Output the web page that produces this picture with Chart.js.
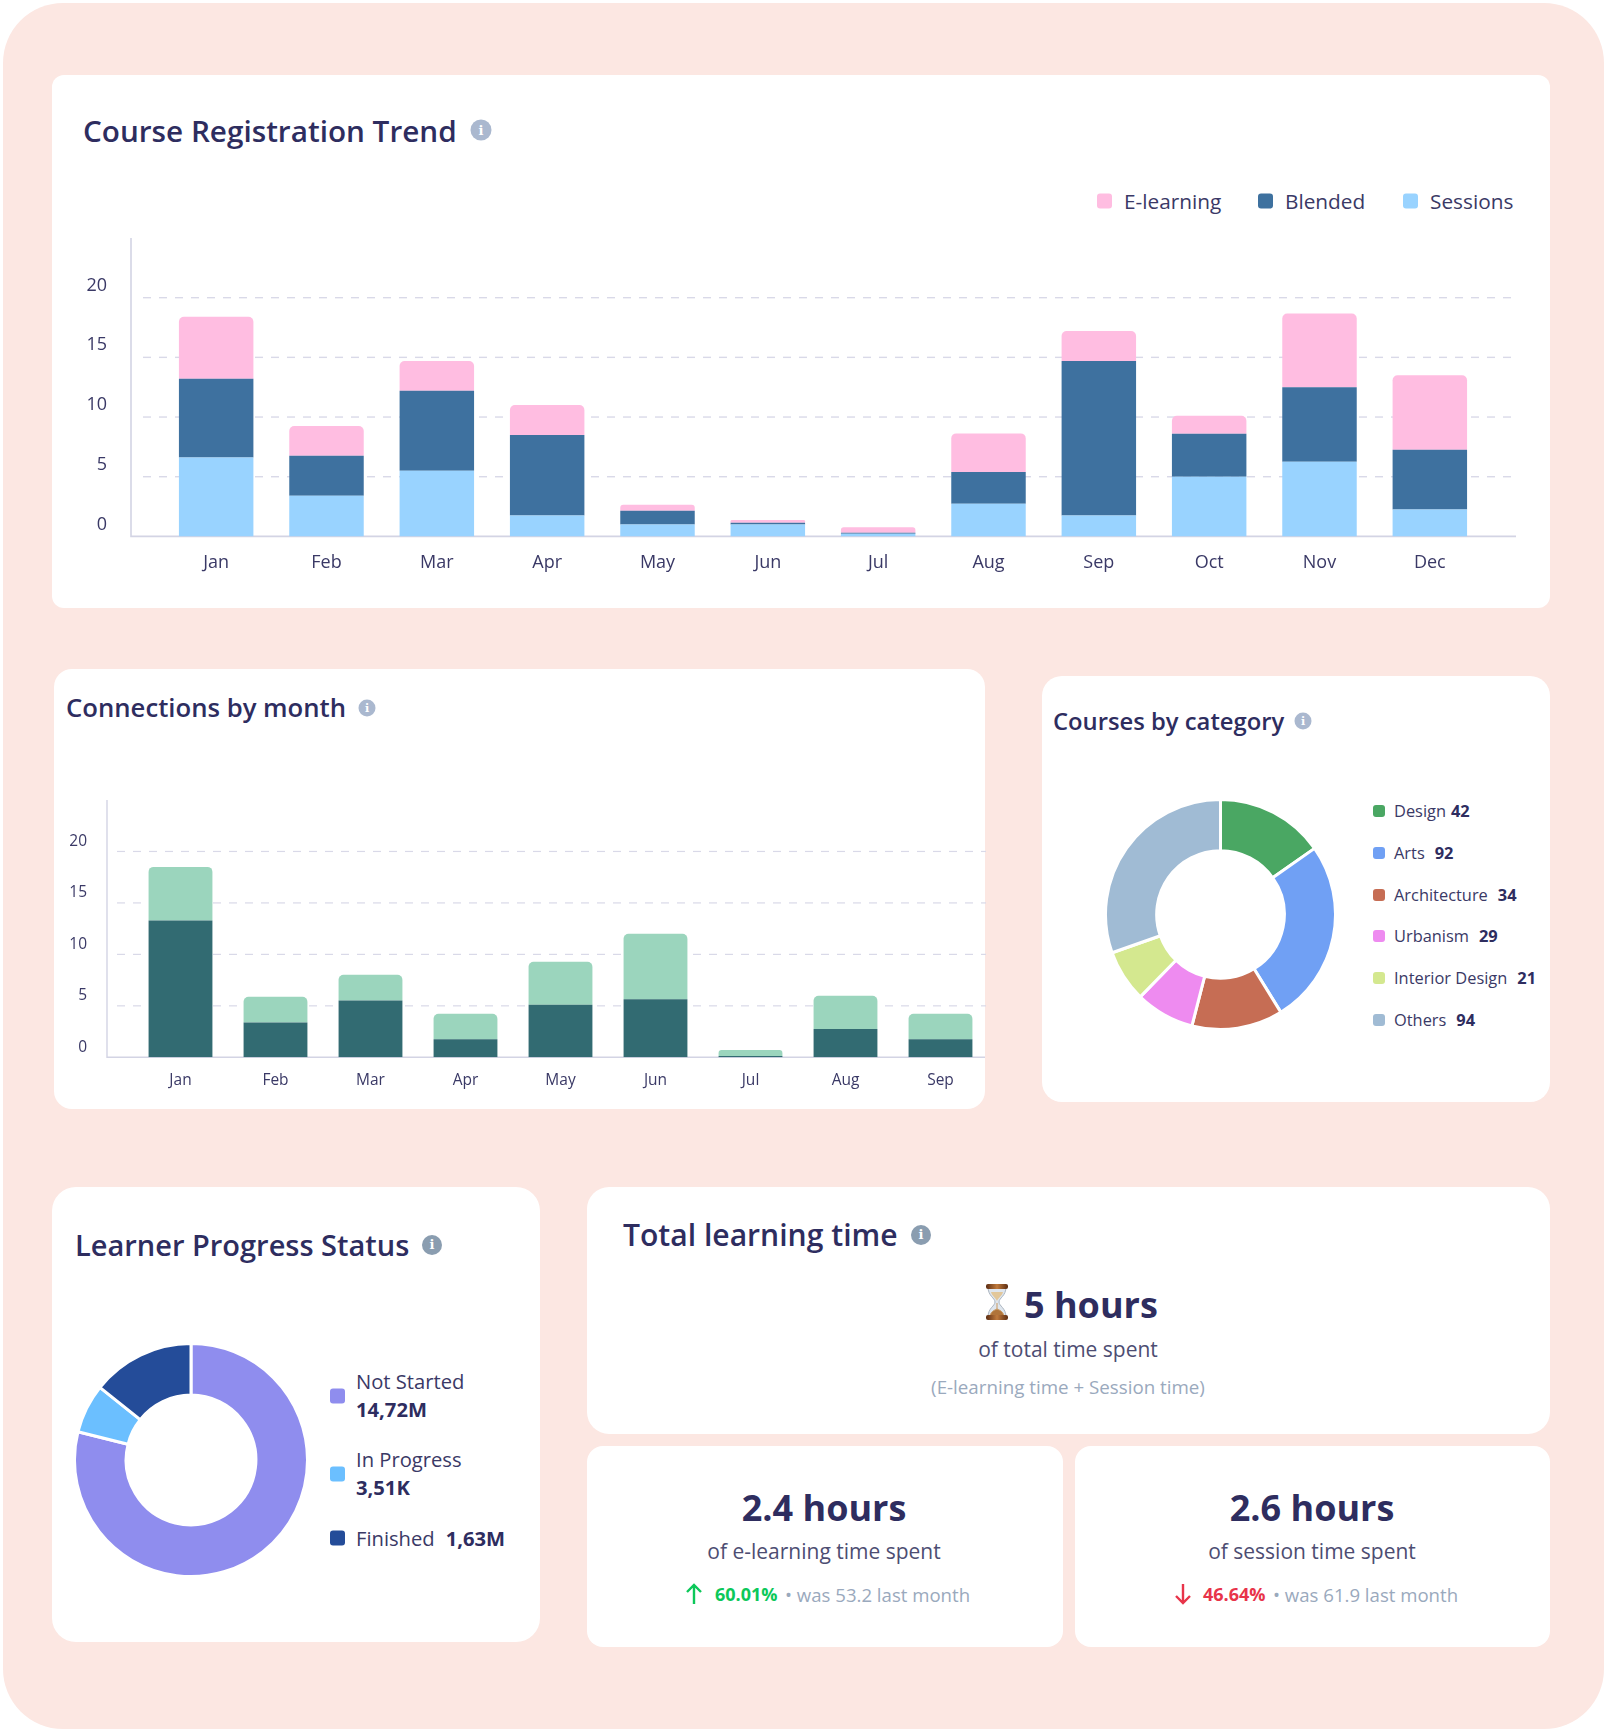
<!DOCTYPE html>
<html>
<head>
<meta charset="utf-8">
<title>Learning dashboard</title>
<script src="https://cdn.jsdelivr.net/npm/chart.js@4"></script>
<style>
  html, body { margin: 0; padding: 0; background: #fff; }
  body { position: relative; width: 1604px; height: 1732px; overflow: hidden; font-family: "Open Sans", sans-serif; color: #2e2d5f; }
  .bg { position: absolute; left: 3px; top: 3px; width: 1601px; height: 1726px; background: #fce7e2; border-radius: 60px; }
  .card { position: absolute; background: #fff; }
  canvas { position: absolute; }
  .t { position: absolute; white-space: nowrap; transform: translateY(-50%); line-height: 1.2; }
  .c { position: absolute; white-space: nowrap; transform: translate(-50%, -50%); line-height: 1.2; }
  .title { font-weight: 600; }
  .sub { color: #4d4d72; }
  .grey { color: #9aa9bd; }
  .big { font-weight: 700; font-size: 36px; }
  .info { position: absolute; border-radius: 50%; transform: translate(-50%, -50%); color: #fff; font-family: "DejaVu Serif", serif; font-weight: 700; text-align: center; }
  .sw { position: absolute; border-radius: 3px; transform: translateY(-50%); }
  b { font-weight: 700; }
</style>
</head>
<body>
<div class="bg"></div>

<div class="card" style="left:52px;top:75px;width:1498px;height:533px;border-radius:12px"></div>
<div class="card" style="left:54px;top:669px;width:931px;height:440px;border-radius:18px"></div>
<div class="card" style="left:1042px;top:676px;width:508px;height:426px;border-radius:20px"></div>
<div class="card" style="left:52px;top:1187px;width:488px;height:455px;border-radius:24px"></div>
<div class="card" style="left:587px;top:1187px;width:963px;height:247px;border-radius:22px"></div>
<div class="card" style="left:587px;top:1446px;width:476px;height:201px;border-radius:16px"></div>
<div class="card" style="left:1075px;top:1446px;width:475px;height:201px;border-radius:16px"></div>

<div class="t title" style="left:83px;top:131px;font-size:29.7px">Course Registration Trend</div>
<div class="info" style="left:481px;top:130px;width:21px;height:21px;line-height:21px;font-size:13px;background:#aab8cf">i</div>
<div class="t title" style="left:66px;top:708px;font-size:25.7px">Connections by month</div>
<div class="info" style="left:367px;top:708px;width:17px;height:17px;line-height:17px;font-size:11px;background:#aab8cf">i</div>
<div class="t title" style="left:1053px;top:721px;font-size:23.8px">Courses by category</div>
<div class="info" style="left:1303px;top:721px;width:17px;height:17px;line-height:17px;font-size:11px;background:#aab8cf">i</div>
<div class="t title" style="left:75px;top:1245px;font-size:29px">Learner Progress Status</div>
<div class="info" style="left:432px;top:1245px;width:20px;height:20px;line-height:20px;font-size:13px;background:#8a9db0">i</div>
<div class="t title" style="left:623px;top:1235px;font-size:30.1px">Total learning time</div>
<div class="info" style="left:921px;top:1235px;width:20px;height:20px;line-height:20px;font-size:13px;background:#8a9db0">i</div>

<canvas id="trendChart" width="1500" height="362" style="left:52px;top:228px"></canvas>
<canvas id="connChart" width="950" height="320" style="left:54px;top:790px"></canvas>
<canvas id="categoryChart" width="233" height="233" style="left:1104px;top:798px"></canvas>
<canvas id="progressChart" width="236" height="236" style="left:73px;top:1342px"></canvas>

<div id="legends"></div>

<svg style="position:absolute;left:983px;top:1283px" width="28" height="38" viewBox="0 0 28 38">
  <defs>
    <linearGradient id="cap" x1="0" y1="0" x2="1" y2="0">
      <stop offset="0" stop-color="#5b2c12"/><stop offset="0.5" stop-color="#c07a3c"/><stop offset="1" stop-color="#5b2c12"/>
    </linearGradient>
  </defs>
  <path d="M5 4 C5 13 12 15 12 19 C12 23 5 25 5 34 L23 34 C23 25 16 23 16 19 C16 15 23 13 23 4 Z" fill="#dfe6ee" stroke="#aab4bf" stroke-width="1"/>
  <path d="M8 9 C9 13 13 15 14 18 C15 15 19 13 20 9 Z" fill="#e2c79a"/>
  <path d="M14 20 L14 27 M7 33 C8 28 12 27 14 26 C16 27 20 28 21 33 Z" fill="#b0743a" stroke="#c99a63" stroke-width="1"/>
  <rect x="3" y="1" width="22" height="5" rx="2" fill="url(#cap)"/>
  <rect x="3" y="32" width="22" height="5" rx="2" fill="url(#cap)"/>
</svg>
<div class="t big" style="left:1024px;top:1305px">5 hours</div>
<div class="c sub" style="left:1068px;top:1350px;font-size:21px">of total time spent</div>
<div class="c grey" style="left:1068px;top:1387px;font-size:18.75px">(E-learning time + Session time)</div>

<div class="c big" style="left:824px;top:1508px">2.4 hours</div>
<div class="c sub" style="left:824px;top:1552px;font-size:21px">of e-learning time spent</div>
<svg style="position:absolute;left:684px;top:1582px" width="20" height="24" viewBox="0 0 20 24">
  <path d="M10 22 L10 3 M3 10 L10 3 L17 10" fill="none" stroke="#0cc85a" stroke-width="2.4"/>
</svg>
<div class="t" style="left:715px;top:1595px;font-size:18px;font-weight:700;color:#0cc85a">60.01%</div>
<div class="t grey" style="left:785px;top:1595px;font-size:18.6px">• was 53.2 last month</div>

<div class="c big" style="left:1312px;top:1508px">2.6 hours</div>
<div class="c sub" style="left:1312px;top:1552px;font-size:21px">of session time spent</div>
<svg style="position:absolute;left:1173px;top:1582px" width="20" height="24" viewBox="0 0 20 24">
  <path d="M10 2 L10 21 M3 14 L10 21 L17 14" fill="none" stroke="#e8344a" stroke-width="2.4"/>
</svg>
<div class="t" style="left:1203px;top:1595px;font-size:18px;font-weight:700;color:#e8344a">46.64%</div>
<div class="t grey" style="left:1273px;top:1595px;font-size:18.6px">• was 61.9 last month</div>

<script>
// chart values
const months = ['Jan','Feb','Mar','Apr','May','Jun','Jul','Aug','Sep','Oct','Nov','Dec'];
const sessions = [6.6,3.4,5.5,1.75,1.0,1.0,0.23,2.74,1.75,5.0,6.25,2.25];
const blended = [6.6,3.35,6.7,6.75,1.15,0.15,0.07,2.65,12.95,3.6,6.25,5.0];
const elearning = [5.2,2.5,2.5,2.5,0.5,0.23,0.46,3.24,2.5,1.5,6.18,6.25];

const connMonths = ['Jan','Feb','Mar','Apr','May','Jun','Jul','Aug','Sep'];
const connDark = [13.28,3.38,5.52,1.75,5.1,5.65,0.13,2.76,1.75];
const connLight = [5.22,2.5,2.5,2.47,4.19,6.36,0.58,3.21,2.47];

const yTicks = [0,5,10,15,20];

const categoryNames = ['Design','Arts','Architecture','Urbanism','Interior Design','Others'];
const categoryCounts = [42,92,34,29,21,94];
const categoryShares = [15.25,25.95,12.8,8.3,7.3,30.4]; // % of the ring as drawn
const categoryColors = ['#4aa763','#70a0f4','#c66d54','#ee8bf0','#d4e88f','#a0bbd4'];

const progressNames = ['Not Started','In Progress','Finished'];
const progressValues = ['14,72M','3,51K','1,63M'];
const progressShares = [78.9,6.8,14.3]; // % of the ring as drawn
const progressColors = ['#8f8dee','#6bbfff','#244c99'];

const textColor = '#3a3966';

// axis line and dashed guides reach past the bar area, so they are drawn by hand
const guides = {
  id: 'guides',
  beforeDatasetsDraw(chart, args, opts) {
    const { ctx, chartArea: a, scales } = chart;
    const y = scales.y;
    ctx.save();
    ctx.strokeStyle = '#d9d9e8';
    ctx.lineWidth = opts.gridWidth;
    ctx.setLineDash([8, 8]);
    yTicks.slice(1).forEach((v) => {
      const py = y.getPixelForValue(v);
      ctx.beginPath();
      ctx.moveTo(a.left + opts.gridFrom, py);
      ctx.lineTo(a.right + opts.gridTo, py);
      ctx.stroke();
    });
    ctx.setLineDash([]);
    ctx.strokeStyle = '#d3d4e4';
    ctx.lineWidth = opts.axisWidth;
    ctx.beginPath();
    ctx.moveTo(a.left + opts.axisFrom, a.top);
    ctx.lineTo(a.left + opts.axisFrom, a.bottom);
    ctx.lineTo(a.right + opts.axisTo, a.bottom);
    ctx.stroke();
    ctx.restore();
  }
};

function barChart(id, labels, datasets, cfg) {
  return new Chart(document.getElementById(id), {
    type: 'bar',
    data: { labels: labels, datasets: datasets },
    plugins: [guides],
    options: {
      responsive: false,
      animation: false,
      layout: { padding: { left: 0, top: cfg.top, right: cfg.right, bottom: 0 } },
      datasets: { bar: { categoryPercentage: 1, barPercentage: cfg.bar } },
      plugins: { legend: { display: false }, tooltip: { enabled: false }, guides: cfg.guides },
      scales: {
        x: {
          stacked: true,
          grid: { display: false },
          border: { display: false },
          ticks: { color: textColor, font: { family: 'Open Sans', size: cfg.fontSize }, padding: cfg.xPad, maxRotation: 0, autoSkip: false },
          afterFit: (s) => { s.height = cfg.xHeight; }
        },
        y: {
          stacked: true,
          min: 0,
          max: 25,
          grid: { display: false },
          border: { display: false },
          afterBuildTicks: (s) => { s.ticks = yTicks.map((v) => ({ value: v })); },
          ticks: { color: textColor, font: { family: 'Open Sans', size: cfg.fontSize }, padding: cfg.yPad, labelOffset: cfg.labelOffset },
          // the big tick padding must not shrink the plot height
          afterFit: (s) => { s.width = cfg.yWidth; s.paddingTop = 0; s.paddingBottom = 0; }
        }
      }
    }
  });
}

const topRound = { topLeft: 5, topRight: 5, bottomLeft: 0, bottomRight: 0 };

barChart('trendChart', months, [
  { label: 'Sessions', data: sessions, backgroundColor: '#99d3ff' },
  { label: 'Blended', data: blended, backgroundColor: '#3e719f' },
  { label: 'E-learning', data: elearning, backgroundColor: '#ffbde1', borderRadius: topRound, borderSkipped: false }
], {
  top: 10, right: 67, bar: 0.675, fontSize: 18, xPad: 8, xHeight: 53.6, yPad: 46, yWidth: 109, labelOffset: -12,
  guides: { gridFrom: -18, gridTo: 31, axisFrom: -30, axisTo: 31, gridWidth: 1.4, axisWidth: 1.6 }
});

barChart('connChart', connMonths, [
  { label: 'Dark', data: connDark, backgroundColor: '#326b72' },
  { label: 'Light', data: connLight, backgroundColor: '#9bd5bd', borderRadius: topRound, borderSkipped: false }
], {
  top: 10, right: 16, bar: 0.672, fontSize: 15.5, xPad: 6, xHeight: 52.7, yPad: 38, yWidth: 79, labelOffset: -10,
  guides: { gridFrom: -16, gridTo: -2, axisFrom: -26, axisTo: -3, gridWidth: 1.2, axisWidth: 1.4 }
});

function ringChart(id, labels, shares, colors, cutout) {
  return new Chart(document.getElementById(id), {
    type: 'doughnut',
    data: { labels: labels, datasets: [{ data: shares, backgroundColor: colors, borderColor: '#fff', borderWidth: 3 }] },
    options: {
      responsive: false,
      animation: false,
      cutout: cutout,
      plugins: { legend: { display: false }, tooltip: { enabled: false } }
    }
  });
}

ringChart('categoryChart', categoryNames, categoryShares, categoryColors, '55.5%');
ringChart('progressChart', progressNames, progressShares, progressColors, '55.7%');

// html legends
const legends = document.getElementById('legends');

function addSwatch(x, y, size, color) {
  const el = document.createElement('div');
  el.className = 'sw';
  el.style.cssText = `left:${x}px;top:${y}px;width:${size}px;height:${size}px;background:${color}`;
  legends.appendChild(el);
}

function addText(x, y, size, html) {
  const el = document.createElement('div');
  el.className = 't';
  el.style.cssText = `left:${x}px;top:${y}px;font-size:${size}px;color:#3a3966`;
  el.innerHTML = html;
  legends.appendChild(el);
}

[['E-learning', 1097, '#ffbde1'], ['Blended', 1258, '#3e719f'], ['Sessions', 1403, '#99d3ff']].forEach(([name, x, color]) => {
  addSwatch(x, 201, 15, color);
  addText(x + 27, 201, 20.8, name);
});

categoryNames.forEach((name, i) => {
  const y = 811 + i * 41.8;
  const gap = i === 0 ? 5 : 10;
  addSwatch(1373, y, 12, categoryColors[i]);
  addText(1394, y, 16.4, `${name}<b style="margin-left:${gap}px;color:#2e2d5f">${categoryCounts[i]}</b>`);
});

const progressY = [1396, 1474];
progressNames.slice(0, 2).forEach((name, i) => {
  addSwatch(330, progressY[i], 15, progressColors[i]);
  addText(356, progressY[i] - 15, 20.2, name);
  addText(356, progressY[i] + 13, 20.2, `<b style="color:#2e2d5f">${progressValues[i]}</b>`);
});
addSwatch(330, 1538, 15, progressColors[2]);
addText(356, 1538, 20.2, `${progressNames[2]}<b style="margin-left:11px;color:#2e2d5f">${progressValues[2]}</b>`);
</script>
</body>
</html>
